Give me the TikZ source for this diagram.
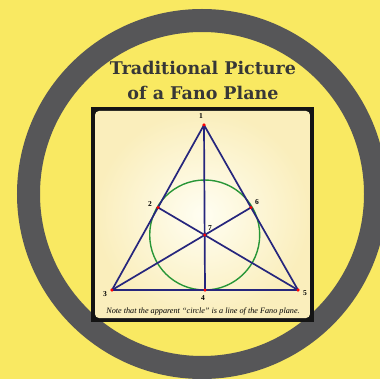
\documentclass[tikz,border=0pt]{standalone}
\usepackage{fontspec}
\setmainfont{Liberation Serif}
\newfontfamily\titlefont{DejaVu Serif}

\definecolor{bgyellow}{RGB}{249,233,98}
\definecolor{ringgray}{RGB}{86,86,88}
\definecolor{titlegray}{RGB}{55,55,55}
\definecolor{fanoblue}{RGB}{38,38,125}
\definecolor{fanogreen}{RGB}{40,150,55}
\definecolor{cream}{RGB}{255,254,242}
\definecolor{creamedge}{RGB}{250,238,188}

\tikzset{
  ring/.style={ringgray, line width=23pt},
  fanoline/.style={fanoblue, line width=1.7pt},
  fanodot/.style={circle, fill=red, inner sep=0pt, minimum size=3.4pt},
  numlabel/.style={font=\bfseries\fontsize{7.5}{8}\selectfont, inner sep=0pt},
}

\begin{document}
\begin{tikzpicture}[x=1pt,y=-1pt]
  \useasboundingbox (0,0) rectangle (380,379);
  \fill[bgyellow] (0,0) rectangle (380,379);
  \begin{scope}
    \clip (0,0) rectangle (380,379);
    \draw[ring] (202,194) circle (173.5pt);
    \draw[ring] (-58,562) circle (173.5pt);
  \end{scope}

  \node[titlegray, font=\titlefont\bfseries\fontsize{17.5}{25}\selectfont, align=center] (title) at (203,80)
    {Traditional Picture\\of a Fano Plane};

  % framed picture
  \fill[black!92] (91,107) rectangle (314,322);
  \shade[rounded corners=4pt, inner color=cream, outer color=creamedge] (95,111) rectangle (310,318);

  % the seven points
  \node[fanodot] (p1) at (204,125) {};
  \node[fanodot] (p3) at (112,290) {};
  \node[fanodot] (p5) at (298,290) {};
  \node[fanodot] (p4) at (205,290) {};
  \node[fanodot] (p2) at (158,207.5) {};
  \node[fanodot] (p6) at (251,207.5) {};
  \node[fanodot] (p7) at (204.7,235) {};

  \draw[fanogreen, line width=1.4pt] (p7.center) circle (55pt);
  \draw[fanoline, line join=round] (p1.center) -- (p3.center) -- (p5.center) -- cycle;
  \draw[fanoline] (p1.center) -- (p4.center);
  \draw[fanoline] (p3.center) -- (p6.center);
  \draw[fanoline] (p5.center) -- (p2.center);
  \foreach \p in {p1,p2,p3,p4,p5,p6,p7}
    \fill[red] (\p) circle (1.7pt);

  \node[numlabel] (l1) at (201,116) {1};
  \node[numlabel] (l2) at (150,204) {2};
  \node[numlabel] (l6) at (257,202) {6};
  \node[numlabel] (l7) at (210,228) {7};
  \node[numlabel] (l3) at (105,294) {3};
  \node[numlabel] (l4) at (203,298) {4};
  \node[numlabel] (l5) at (305,293) {5};

  \node[font=\itshape\fontsize{8.2}{9}\selectfont] (note) at (203,311)
    {Note that the apparent ``circle'' is a line of the Fano plane.};
\end{tikzpicture}
\end{document}
